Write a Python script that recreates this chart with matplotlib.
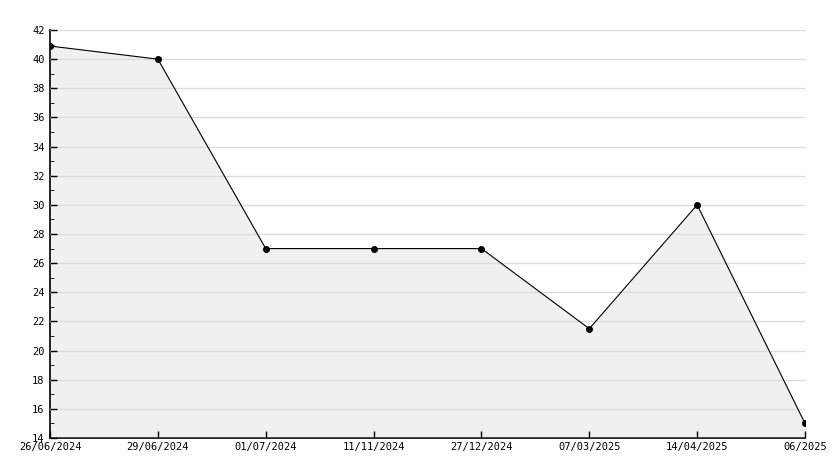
import matplotlib.pyplot as plt
import numpy as np
from matplotlib.ticker import MultipleLocator

dates = ['26/06/2024', '29/06/2024', '01/07/2024', '11/11/2024',
         '27/12/2024', '07/03/2025', '14/04/2025', '06/2025']
values = [40.9, 40, 27, 27, 27, 21.5, 30, 15]

plt.rcParams['font.family'] = 'DejaVu Sans Mono'

fig = plt.figure(figsize=(8.34, 4.68), dpi=100)
ax = fig.add_axes([50 / 834, 30 / 468, 755 / 834, 408 / 468])

x = np.arange(len(dates))
ax.fill_between(x, values, 14, color='#f0f0f0', zorder=1)
ax.yaxis.grid(True, color='#dcdcdc', linewidth=1, zorder=2)
ax.set_axisbelow(False)
ax.plot(x, values, color='black', linewidth=0.8, marker='o', markersize=4, zorder=3)

ax.set_xlim(0, len(dates) - 1)
ax.set_ylim(14, 42)
ax.set_xticks(x)
ax.set_xticklabels(dates)
ax.yaxis.set_major_locator(MultipleLocator(2))
ax.yaxis.set_minor_locator(MultipleLocator(1))

ax.tick_params(axis='both', direction='in', labelsize=7.5, width=1, color='black')
ax.tick_params(axis='y', which='major', length=5, pad=4)
ax.tick_params(axis='y', which='minor', length=3, direction='in')
ax.tick_params(axis='x', length=5, pad=3)

for s in ['top', 'right']:
    ax.spines[s].set_visible(False)
for s in ['left', 'bottom']:
    ax.spines[s].set_linewidth(1.2)

fig.savefig('out.png', dpi=100)
